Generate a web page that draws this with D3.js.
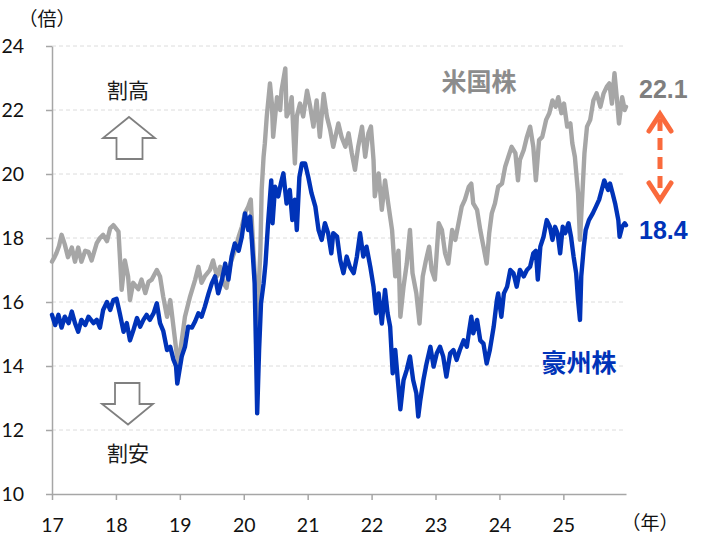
<!DOCTYPE html>
<html>
<head>
<meta charset="utf-8">
<script src="https://cdn.jsdelivr.net/npm/d3@7"></script>
<style>
  html, body { margin: 0; padding: 0; background: #fff; }
  svg { display: block; }
</style>
</head>
<body>
<svg id="chart" width="706" height="535"></svg>
<script>
// Forward P/E (倍) — US equities vs Australian equities, as [decimal year, value]
const usPER = [
  [17.00,17.26],[17.04,17.4],[17.07,17.53],[17.11,17.75],[17.15,18.1],[17.20,17.8],[17.25,17.4],[17.31,17.7],[17.36,17.26],
  [17.41,17.7],[17.46,17.26],[17.52,17.6],[17.57,17.57],[17.62,17.3],[17.70,17.84],[17.75,18.0],
  [17.80,18.1],[17.86,17.9],[17.91,18.3],[17.96,18.4],[18.04,18.2],[18.06,17.5],[18.09,16.38],
  [18.14,17.3],[18.19,16.8],[18.22,16.06],[18.27,16.6],[18.35,16.4],[18.40,16.7],[18.46,16.28],
  [18.51,16.63],[18.56,16.7],[18.64,17.0],[18.69,16.8],[18.74,16.17],[18.80,15.54],[18.85,16.06],
  [18.90,15.23],[18.95,14.4],[18.98,14.1],[19.03,14.8],[19.08,15.54],[19.16,16.17],[19.24,16.7],
  [19.29,17.1],[19.34,16.6],[19.39,16.8],[19.47,17.0],[19.52,17.3],[19.58,16.8],[19.63,17.1],
  [19.68,16.6],[19.73,16.44],[19.79,17.2],[19.86,17.6],[19.92,18.04],[19.97,18.35],[20.02,18.78],
  [20.07,18.98],[20.11,19.2],[20.15,17.6],[20.18,16.6],[20.20,15.0],[20.26,17.6],[20.28,19.5],
  [20.31,20.54],[20.33,20.96],[20.36,21.8],[20.41,22.83],[20.44,22.2],[20.46,21.16],[20.52,22.4],
  [20.57,22.0],[20.59,22.6],[20.65,23.3],[20.67,21.8],[20.72,22.0],[20.75,22.4],[20.80,20.33],
  [20.83,21.8],[20.88,22.2],[20.93,21.8],[20.99,22.6],[21.04,22.1],[21.09,21.48],[21.14,22.3],
  [21.19,21.16],[21.25,22.5],[21.30,21.8],[21.35,21.4],[21.40,20.85],[21.48,21.58],[21.53,21.16],
  [21.59,20.85],[21.64,21.27],[21.69,20.65],[21.74,20.13],[21.79,20.85],[21.85,21.48],[21.90,20.54],
  [21.95,21.27],[21.99,21.48],[22.03,20.44],[22.05,19.3],[22.11,20.02],[22.16,18.88],[22.21,19.8],
  [22.26,19.08],[22.32,18.25],[22.37,16.8],[22.42,17.6],[22.45,15.54],[22.50,16.48],[22.55,17.2],
  [22.60,18.25],[22.64,16.9],[22.70,16.27],[22.75,15.33],[22.80,16.8],[22.85,17.3],[22.90,17.73],
  [22.94,17.0],[22.99,16.7],[23.05,18.46],[23.10,18.25],[23.15,17.52],[23.20,17.2],[23.26,18.25],
  [23.31,17.94],[23.36,18.46],[23.41,18.98],[23.46,19.2],[23.52,19.6],[23.56,19.7],[23.59,19.08],
  [23.65,18.88],[23.70,18.25],[23.75,17.73],[23.80,17.2],[23.84,18.15],[23.88,18.77],[23.93,19.08],
  [23.98,19.6],[24.04,19.7],[24.09,20.23],[24.14,20.54],[24.19,20.85],[24.25,20.65],[24.29,19.8],
  [24.32,20.44],[24.38,20.75],[24.43,21.16],[24.48,21.48],[24.53,20.85],[24.57,19.8],[24.62,21.06],
  [24.67,21.16],[24.73,21.69],[24.78,21.9],[24.83,22.3],[24.88,22.1],[24.92,22.4],[24.97,21.9],
  [25.01,22.2],[25.06,21.48],[25.11,21.58],[25.14,20.96],[25.18,20.54],[25.23,19.4],[25.26,17.94],
  [25.29,19.08],[25.33,20.65],[25.37,21.48],[25.42,21.69],[25.47,22.3],[25.52,22.52],[25.58,22.1],
  [25.63,22.52],[25.68,22.73],[25.72,22.83],[25.76,22.2],[25.80,23.15],[25.84,22.3],[25.87,21.58],
  [25.92,22.4],[25.96,22.0],[25.98,22.1]
];

const auPER = [
  [17.00,15.6],[17.05,15.28],[17.10,15.6],[17.15,15.2],[17.20,15.54],[17.26,15.34],[17.31,15.7],
  [17.36,15.34],[17.41,15.07],[17.46,15.44],[17.52,15.28],[17.57,15.54],[17.65,15.34],[17.70,15.44],
  [17.75,15.2],[17.80,15.75],[17.86,16.0],[17.91,15.75],[17.96,16.06],[18.01,16.1],[18.06,15.65],
  [18.12,15.07],[18.17,15.34],[18.22,14.8],[18.27,15.1],[18.33,15.5],[18.38,15.23],[18.43,15.44],
  [18.48,15.6],[18.53,15.44],[18.59,15.65],[18.64,15.96],[18.69,15.34],[18.74,15.1],[18.80,14.5],
  [18.85,14.6],[18.90,14.2],[18.94,14.0],[18.96,13.45],[19.03,14.3],[19.08,14.6],[19.13,15.23],
  [19.19,15.2],[19.24,15.4],[19.29,15.65],[19.34,15.54],[19.39,15.85],[19.45,16.27],[19.50,16.58],
  [19.55,16.8],[19.60,16.27],[19.66,16.7],[19.71,17.2],[19.76,16.7],[19.81,17.42],[19.86,17.83],
  [19.92,17.6],[19.97,18.04],[20.02,18.77],[20.07,18.25],[20.10,18.67],[20.13,17.83],[20.17,16.58],
  [20.19,14.7],[20.21,12.52],[20.24,14.5],[20.27,15.96],[20.31,16.58],[20.34,17.2],[20.38,18.46],
  [20.43,19.8],[20.45,18.46],[20.49,19.6],[20.54,19.3],[20.58,19.7],[20.62,20.02],[20.67,19.08],
  [20.72,19.5],[20.76,18.56],[20.80,19.2],[20.83,18.25],[20.87,19.9],[20.91,20.33],[20.96,20.33],
  [21.01,19.9],[21.06,19.4],[21.12,18.98],[21.17,18.25],[21.22,17.94],[21.27,18.46],[21.32,18.15],
  [21.37,17.52],[21.40,18.15],[21.46,18.04],[21.51,17.3],[21.56,16.9],[21.61,17.42],[21.66,17.1],
  [21.72,16.9],[21.77,17.42],[21.82,18.15],[21.87,17.42],[21.92,17.73],[21.98,17.1],[22.03,16.48],
  [22.07,15.65],[22.11,16.27],[22.16,15.33],[22.21,16.38],[22.25,15.65],[22.29,15.23],[22.33,13.77],
  [22.37,14.5],[22.41,13.56],[22.45,12.65],[22.50,13.56],[22.55,13.88],[22.60,14.3],[22.65,13.56],
  [22.70,13.15],[22.73,12.42],[22.76,12.9],[22.81,13.56],[22.86,14.08],[22.92,14.6],[22.97,13.98],
  [23.02,14.4],[23.07,14.6],[23.12,14.3],[23.17,13.67],[23.23,14.4],[23.28,14.5],[23.33,14.19],
  [23.38,14.5],[23.44,14.8],[23.49,14.6],[23.52,15.02],[23.56,15.54],[23.59,15.02],[23.65,15.44],
  [23.70,14.8],[23.75,14.7],[23.80,14.08],[23.85,14.5],[23.91,15.23],[23.96,16.06],[23.98,16.27],
  [24.03,15.54],[24.07,16.27],[24.12,16.48],[24.17,17.0],[24.22,16.9],[24.27,16.48],[24.32,17.0],
  [24.38,16.8],[24.43,17.0],[24.48,17.1],[24.53,17.52],[24.57,17.6],[24.60,16.7],[24.64,17.73],
  [24.69,18.04],[24.74,18.56],[24.79,18.35],[24.83,17.94],[24.87,18.35],[24.91,18.15],[24.95,17.52],
  [24.99,18.35],[25.03,18.15],[25.08,18.46],[25.12,18.04],[25.16,17.42],[25.20,16.9],[25.23,16.06],
  [25.26,15.44],[25.28,16.8],[25.32,17.73],[25.35,18.25],[25.40,18.56],[25.46,18.77],[25.51,18.98],
  [25.56,19.2],[25.60,19.5],[25.64,19.8],[25.70,19.5],[25.73,19.7],[25.77,19.4],[25.81,19.08],
  [25.86,18.56],[25.88,18.04],[25.92,18.35],[25.96,18.46],[25.98,18.4]
];

const yearTicks = [17, 18, 19, 20, 21, 22, 23, 24, 25];
const valueTicks = [10, 12, 14, 16, 18, 20, 22, 24];
const latestUS = 22.1;
const latestAU = 18.4;

const svg = d3.select("#chart");
const numFont = "Lato, 'Open Sans', sans-serif";
const jpFont = "'Noto Sans CJK JP', 'Noto Sans', sans-serif";

const x = d3.scaleLinear().domain([17, 25.98]).range([52, 626]);
const y = d3.scaleLinear().domain([10, 24]).range([494, 46]);

// dashed horizontal gridlines
svg.append("g")
  .selectAll("line")
  .data(valueTicks.filter(v => v > 10))
  .join("line")
  .attr("x1", x(17)).attr("x2", x.range()[1])
  .attr("y1", d => y(d)).attr("y2", d => y(d))
  .attr("stroke", "#dcdcdc")
  .attr("stroke-width", 1)
  .attr("stroke-dasharray", "4,3");

// axes
const yAxis = svg.append("g")
  .attr("transform", `translate(${x(17)},0)`)
  .call(d3.axisLeft(y).tickValues(valueTicks).tickSize(6).tickPadding(22).tickSizeOuter(0));
const xAxis = svg.append("g")
  .attr("transform", `translate(0,${y(10)})`)
  .call(d3.axisBottom(x).tickValues(yearTicks).tickFormat(d3.format("d")).tickSize(6).tickPadding(18).tickSizeOuter(0));

[yAxis, xAxis].forEach(g => {
  g.select(".domain").attr("stroke", "#a6a6a6").attr("stroke-width", 1.5);
  g.selectAll(".tick line").attr("stroke", "#a6a6a6").attr("stroke-width", 1.5);
  g.selectAll(".tick text")
    .attr("fill", "#111")
    .style("font-family", numFont)
    .style("font-size", "19.5px");
});
yAxis.selectAll(".tick text").attr("text-anchor", "end");

// unit labels
svg.append("text").attr("x", 47).attr("y", 26)
  .attr("text-anchor", "middle")
  .style("font-family", jpFont).style("font-size", "19px").attr("fill", "#111")
  .text("（倍）");
svg.append("text").attr("x", 650).attr("y", 530)
  .attr("text-anchor", "middle")
  .style("font-family", jpFont).style("font-size", "19px").attr("fill", "#111")
  .text("（年）");

// series lines
const line = d3.line().x(d => x(d[0])).y(d => y(d[1])).curve(d3.curveLinear);
svg.append("path").datum(usPER)
  .attr("d", line).attr("fill", "none")
  .attr("stroke", "#a6a6a6").attr("stroke-width", 4.4)
  .attr("stroke-linejoin", "round").attr("stroke-linecap", "round");
svg.append("path").datum(auPER)
  .attr("d", line).attr("fill", "none")
  .attr("stroke", "#0033b8").attr("stroke-width", 4.4)
  .attr("stroke-linejoin", "round").attr("stroke-linecap", "round");

// expensive / cheap markers
const jpLabel = (tx, ty, t) => svg.append("text").attr("x", tx).attr("y", ty)
  .attr("text-anchor", "middle").attr("dominant-baseline", "central")
  .style("font-family", jpFont).style("font-size", "21px").attr("fill", "#1a1a1a")
  .text(t);
jpLabel(128, 89, "割高");
jpLabel(128, 452, "割安");

const upArrow = [[129,117],[155,138],[142.5,138],[142.5,159],[116.5,159],[116.5,138],[103,138]];
const downArrow = [[115,383],[139.5,383],[139.5,404],[153,404],[128,424.5],[102,404],[115,404]];
[upArrow, downArrow].forEach(pts => {
  svg.append("path")
    .attr("d", d3.line()(pts) + "Z")
    .attr("fill", "#fff").attr("stroke", "#808080").attr("stroke-width", 1.8)
    .attr("stroke-linejoin", "miter");
});

// series names
svg.append("text").attr("x", 479).attr("y", 80)
  .attr("text-anchor", "middle").attr("dominant-baseline", "central")
  .style("font-family", jpFont).style("font-size", "25px").style("font-weight", "bold")
  .attr("fill", "#8c8c8c").text("米国株");
svg.append("text").attr("x", 579).attr("y", 361)
  .attr("text-anchor", "middle").attr("dominant-baseline", "central")
  .style("font-family", jpFont).style("font-size", "25px").style("font-weight", "bold")
  .attr("fill", "#0033b8").text("豪州株");

// latest values
const valFont = "'Liberation Sans', Arial, sans-serif";
svg.append("text").attr("x", 639).attr("y", 98)
  .style("font-family", valFont).style("font-size", "25px").style("font-weight", "bold")
  .attr("fill", "#7f7f7f").text(latestUS.toFixed(1));
svg.append("text").attr("x", 639).attr("y", 239)
  .style("font-family", valFont).style("font-size", "25px").style("font-weight", "bold")
  .attr("fill", "#0033b8").text(latestAU.toFixed(1));

// gap arrow between the two latest values
const orange = "#fa6a3c";
const ax = 660;
svg.append("line").attr("x1", ax).attr("x2", ax).attr("y1", 119).attr("y2", 196)
  .attr("stroke", orange).attr("stroke-width", 5).attr("stroke-dasharray", "12,7");
svg.append("path").attr("d", d3.line()([[649,131],[ax,114],[671,131]]))
  .attr("fill", "none").attr("stroke", orange).attr("stroke-width", 5)
  .attr("stroke-linecap", "round").attr("stroke-linejoin", "miter");
svg.append("path").attr("d", d3.line()([[649,183],[ax,200],[671,183]]))
  .attr("fill", "none").attr("stroke", orange).attr("stroke-width", 5)
  .attr("stroke-linecap", "round").attr("stroke-linejoin", "miter");
</script>
</body>
</html>
